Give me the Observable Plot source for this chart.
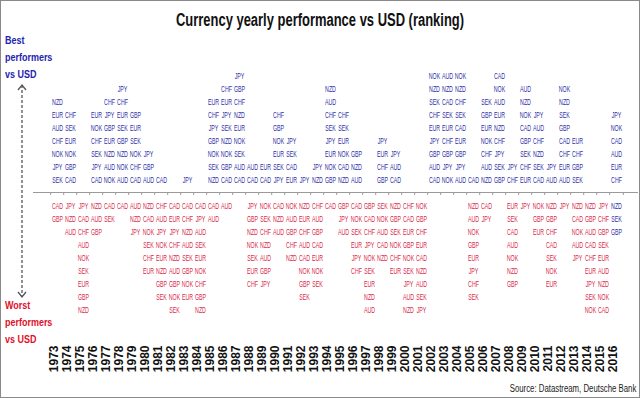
<!DOCTYPE html>
<html><head><meta charset="utf-8">
<script src="https://cdn.jsdelivr.net/npm/d3@7"></script>
<script src="https://cdn.jsdelivr.net/npm/@observablehq/plot@0.6"></script>
<style>
html,body{margin:0;padding:0;background:#fff;}
#wrap{position:relative;width:640px;height:398px;overflow:hidden;font-family:"Liberation Sans",Arial,sans-serif;}
#frame{position:absolute;left:0;top:0;width:638px;height:396px;border:1px solid #8a8a8a;pointer-events:none;}
#title{position:absolute;left:0;top:9px;width:640px;text-align:center;font-weight:bold;font-size:18px;line-height:22px;color:#111;transform:scaleX(0.72);transform-origin:320px 0;white-space:nowrap;}
.side{position:absolute;left:5px;font-weight:bold;font-size:11.5px;line-height:17px;transform:scaleX(0.78);transform-origin:0 0;white-space:nowrap;}
#best{top:32px;color:#2323b0;}
#worst{top:297px;color:#e0102a;}
#source{position:absolute;right:4px;top:383px;font-size:10px;color:#222;transform:scaleX(0.78);transform-origin:100% 0;white-space:nowrap;}
#arrow{position:absolute;left:15px;top:82px;}
#chart{position:absolute;left:0;top:0;}
</style></head>
<body><div id="wrap">
<div id="chart"></div>
<div id="title">Currency yearly performance vs USD (ranking)</div>
<div class="side" id="best">Best<br>performers<br>vs USD</div>
<div class="side" id="worst">Worst<br>performers<br>vs USD</div>
<svg id="arrow" width="14" height="218"><g stroke="#555" fill="none" stroke-width="1.3"><line x1="7" y1="3" x2="7" y2="215" stroke-dasharray="3,2"/><polyline points="3,8 7,3 11,8"/><polyline points="3,210 7,215 11,210"/></g></svg>
<div id="source">Source: Datastream, Deutsche Bank</div>
<div id="frame"></div>
</div>
<script>
const years = [1973,1974,1975,1976,1977,1978,1979,1980,1981,1982,1983,1984,1985,1986,1987,1988,1989,1990,1991,1992,1993,1994,1995,1996,1997,1998,1999,2000,2001,2002,2003,2004,2005,2006,2007,2008,2009,2010,2011,2012,2013,2014,2015,2016];
// currencies above the line, best first
const above = [
"NZD EUR AUD CHF NOK JPY SEK","CHF SEK EUR NOK GBP CAD","","EUR NOK CHF SEK JPY CAD",
"CHF JPY GBP EUR NZD AUD NOK","JPY CHF EUR SEK GBP NZD NOK AUD","GBP EUR SEK NOK CHF CAD","JPY GBP AUD",
"CAD","","JPY","",
"EUR CHF JPY GBP NOK SEK NZD","CHF EUR JPY SEK NZD NOK GBP CAD","JPY GBP CHF NZD EUR NOK SEK AUD CAD","AUD CAD",
"EUR CAD","CHF GBP NOK EUR SEK JPY","JPY SEK CAD EUR","JPY",
"JPY NZD","NZD AUD CHF SEK JPY EUR NOK GBP","CHF SEK EUR NOK CAD NZD","GBP NZD AUD",
"","JPY EUR CHF GBP","JPY AUD CAD","",
"","NOK NZD SEK CHF EUR JPY GBP AUD CAD","AUD NZD CAD SEK EUR CHF GBP JPY NOK","NOK NZD CHF SEK CAD EUR GBP JPY AUD",
"CAD","SEK GBP EUR NOK CHF AUD NZD","CAD NOK AUD EUR NZD CHF JPY SEK GBP","JPY CHF",
"AUD NZD NOK CAD GBP SEK CHF EUR","JPY AUD CHF NZD SEK CAD","JPY AUD","NOK NZD SEK GBP CAD CHF EUR AUD",
"EUR CHF GBP SEK","","","JPY NOK CAD AUD EUR CHF"];
// currencies below the line, from the line down to the worst
const below = [
"CAD GBP","JPY NZD AUD","JPY CAD CHF AUD NOK SEK EUR GBP NZD","NZD AUD GBP",
"CAD SEK","CAD","AUD NZD JPY","NZD CAD NOK SEK CHF EUR",
"CHF AUD JPY NOK EUR NZD GBP SEK","CAD EUR JPY CHF NZD AUD GBP NOK SEK","CAD CHF NZD AUD SEK GBP NOK EUR","CAD JPY AUD SEK EUR NOK CHF GBP NZD",
"CAD AUD","AUD","","JPY GBP NZD NOK SEK EUR CHF",
"NOK SEK CHF NZD AUD GBP JPY","CAD NZD AUD","NOK AUD GBP CHF NZD","NZD EUR CHF AUD CAD NOK GBP SEK",
"CHF AUD GBP CAD EUR NOK SEK","CAD","GBP JPY AUD","CAD NOK SEK EUR JPY CHF",
"GBP CAD CHF JPY NOK SEK EUR NZD AUD","SEK NOK AUD CAD NZD","NZD GBP SEK NOK CHF EUR","CHF CAD EUR GBP NOK SEK JPY AUD NZD",
"NOK GBP CHF EUR CAD NZD AUD SEK JPY","","","",
"NZD AUD NOK GBP EUR JPY CHF SEK","CAD JPY","","EUR SEK CAD AUD NOK NZD GBP",
"JPY","NOK GBP EUR","NZD GBP CHF CAD SEK NOK EUR","JPY",
"NZD CAD NOK AUD JPY","NZD GBP AUD CAD CHF EUR JPY SEK NOK","JPY CHF GBP SEK EUR AUD NZD NOK CAD","NZD SEK GBP"];
// years whose below-line currencies still rose vs USD (shown in blue)
const positiveBelowYears = [2016];
const slots = [9,8,7,6,5,4,3,2,1,0,-1,-2,-3,-4,-5,-6,-7,-8,-9];

const BLUE = "#2e2ea6", RED = "#d8284a";
const yearKeys = years.map(String);
const cells = [];
years.forEach((yr, i) => {
  const up = above[i] ? above[i].split(" ") : [];
  const dn = below[i] ? below[i].split(" ") : [];
  up.forEach((c, j) => cells.push({year: String(yr), slot: up.length - j, cur: c, pos: true}));
  dn.forEach((c, j) => cells.push({year: String(yr), slot: -(j + 1), cur: c, pos: positiveBelowYears.includes(yr)}));
});

const chart = Plot.plot({
  width: 640, height: 398,
  marginLeft: 42, marginRight: 10, marginTop: 66, marginBottom: 80,
  style: {background: "transparent", fontFamily: "'Liberation Sans', Arial, sans-serif"},
  x: {type: "point", domain: yearKeys, axis: null},
  y: {type: "point", domain: slots, axis: null},
  marks: [
    Plot.ruleY([0], {stroke: "#9a9a9a", strokeWidth: 1, insetLeft: -9, insetRight: -8}),
    Plot.ruleX(yearKeys, {x: d => d, y1: 0, y2: 0, dx: -6.8, stroke: "#9a9a9a", insetBottom: -3}),
    Plot.ruleX(yearKeys.slice(-1), {x: d => d, y1: 0, y2: 0, dx: 6.8, stroke: "#9a9a9a", insetBottom: -3}),
    Plot.text(cells.filter(d => d.pos), {x: "year", y: "slot", text: "cur", fill: BLUE, fontSize: 6.3}),
    Plot.text(cells.filter(d => !d.pos), {x: "year", y: "slot", text: "cur", fill: RED, fontSize: 6.3}),
    Plot.text(yearKeys, {x: d => d, frameAnchor: "bottom", dy: 27, text: d => d, rotate: -90, textAnchor: "end", fontWeight: "bold", fontSize: 12, fill: "#111"})
  ]
});
document.getElementById("chart").appendChild(chart);
// condensed look of the original labels: narrow, tall glyphs
chart.querySelectorAll("text").forEach(t => {
  if (!/^[A-Z]{3}$/.test(t.textContent.trim())) return;
  const tx = t.getAttribute("x"), ty = t.getAttribute("y");
  if (tx !== null && ty !== null) {
    const x = parseFloat(tx), y = parseFloat(ty);
    t.setAttribute("transform", `translate(${x},${y}) scale(0.84,1.5) translate(${-x},${-y})`);
  } else {
    t.setAttribute("transform", (t.getAttribute("transform") || "") + " scale(0.84,1.5)");
  }
});
</script>
</body></html>
